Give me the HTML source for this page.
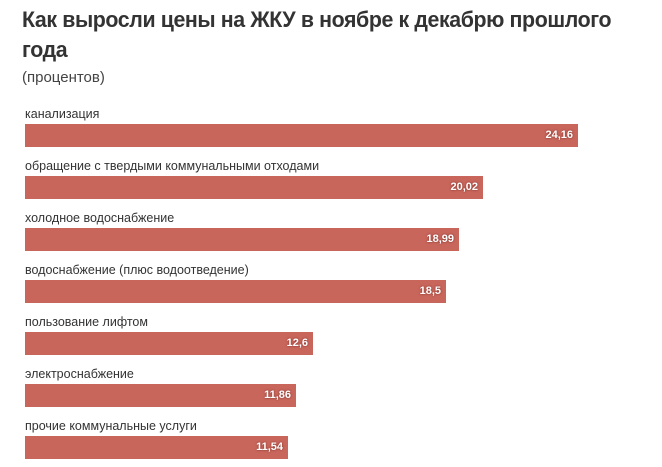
<!DOCTYPE html><html><head><meta charset="utf-8"><style>
body{margin:0;width:662px;height:467px;background:#fff;font-family:"Liberation Sans",sans-serif;position:relative;overflow:hidden}
.t{position:absolute;left:22px;top:5px;font-size:22px;font-weight:bold;color:#333;line-height:30px;letter-spacing:-0.4px;transform:scaleX(0.97);transform-origin:left}
.s{position:absolute;left:22px;top:69px;font-size:15px;color:#444}
.l{position:absolute;left:25px;font-size:12.5px;color:#333}
.b{position:absolute;left:25px;height:23px;background:#c8665c;color:#fff;font-weight:bold;font-size:11px;text-align:right;line-height:23px;box-sizing:border-box;padding-right:5px;text-shadow:0 0 2px #7a2a22}
</style></head><body>
<div class="t">Как выросли цены на ЖКУ в ноябре к декабрю прошлого<br>года</div>
<div class="s">(процентов)</div>
<div class="l" style="top:107px">канализация</div><div class="b" style="top:124px;width:553px">24,16</div>
<div class="l" style="top:159px">обращение с твердыми коммунальными отходами</div><div class="b" style="top:176px;width:458px">20,02</div>
<div class="l" style="top:211px">холодное водоснабжение</div><div class="b" style="top:228px;width:434px">18,99</div>
<div class="l" style="top:263px">водоснабжение (плюс водоотведение)</div><div class="b" style="top:280px;width:421px">18,5</div>
<div class="l" style="top:315px">пользование лифтом</div><div class="b" style="top:332px;width:288px">12,6</div>
<div class="l" style="top:367px">электроснабжение</div><div class="b" style="top:384px;width:271px">11,86</div>
<div class="l" style="top:419px">прочие коммунальные услуги</div><div class="b" style="top:436px;width:263px">11,54</div>
</body></html>
